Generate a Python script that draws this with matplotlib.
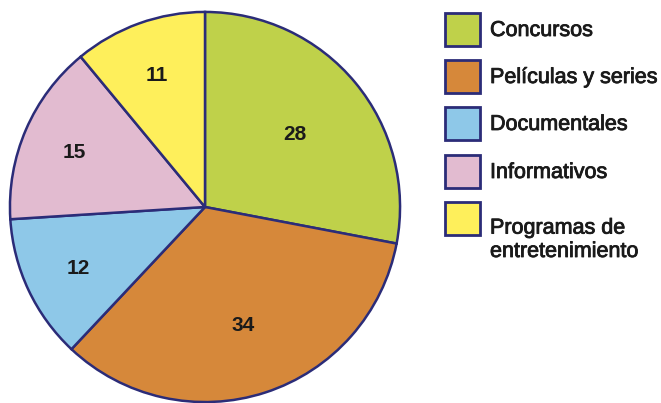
import matplotlib
matplotlib.use("Agg")
import matplotlib.pyplot as plt
from matplotlib.patches import Rectangle
import matplotlib.patheffects as pe
import numpy as np

categories = ["Concursos", "Películas y series", "Documentales", "Informativos",
              "Programas de\nentretenimiento"]
values = [28, 34, 12, 15, 11]
colors = ["#BFD14A", "#D6883A", "#8EC8E8", "#E2BBD0", "#FEEF5B"]
edge = "#2B2C78"
label_r = [0.60, 0.63, 0.72, 0.73, 0.73]

W, H = 661, 403
plt.rcParams['font.family'] = ['Liberation Sans', 'DejaVu Sans']
fig = plt.figure(figsize=(W / 100, H / 100), dpi=100)

cx, cy, r = 205, 207, 197
ax = fig.add_axes([(cx - r) / W, (H - cy - r) / H, 2 * r / W, 2 * r / H])
wedges, _ = ax.pie(values, colors=colors, startangle=90, counterclock=False,
                   wedgeprops=dict(edgecolor=edge, linewidth=1.8))
for w, v, lr in zip(wedges, values, label_r):
    ang = np.deg2rad((w.theta1 + w.theta2) / 2)
    ax.text(lr * np.cos(ang), lr * np.sin(ang), str(v), ha='center',
            va='center_baseline', fontsize=15, fontweight='bold', color='#1a1a1a')
ax.set_xlim(-1.01, 1.01)
ax.set_ylim(-1.01, 1.01)
ax.set_aspect('equal')
ax.axis('off')

thick = [pe.withStroke(linewidth=0.6, foreground='#1a1a1a')]

# legend (manual)
box_x, box_w, box_h = 445, 35, 33
tops = [13, 60, 107, 155, 202]
for i, (lab, col) in enumerate(zip(categories, colors)):
    top = tops[i]
    rect = Rectangle((box_x / W, 1 - (top + box_h) / H), box_w / W, box_h / H,
                     transform=fig.transFigure, facecolor=col, edgecolor=edge,
                     linewidth=2.0)
    fig.patches.append(rect)
    if "\n" in lab:
        fig.text(490 / W, 1 - 257 / H, lab, ha='left', va='baseline',
                 fontsize=15.5, color='#1a1a1a', linespacing=1.15,
                 path_effects=thick)
    else:
        fig.text(490 / W, 1 - (top + box_h / 2 + 1) / H, lab, ha='left',
                 va='center', fontsize=15.5, color='#1a1a1a', path_effects=thick)

fig.savefig("out.png", dpi=100)
